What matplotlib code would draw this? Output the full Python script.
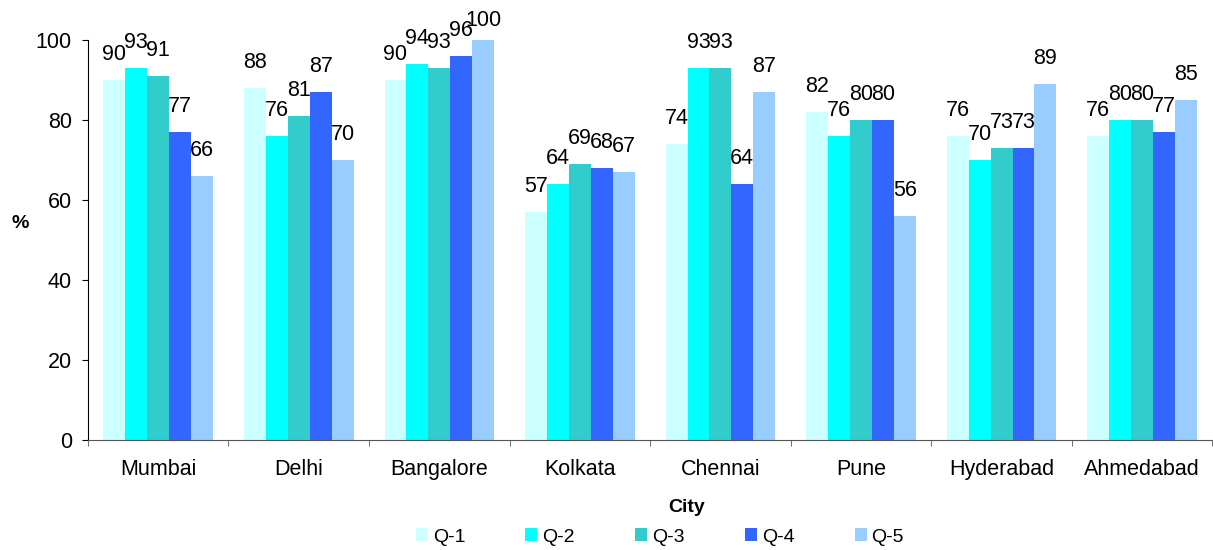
import numpy as np
import matplotlib.pyplot as plt

plt.rcParams['font.family'] = ['Liberation Sans', 'DejaVu Sans']

# Data
cities = ["Mumbai", "Delhi", "Bangalore", "Kolkata", "Chennai", "Pune", "Hyderabad", "Ahmedabad"]
series_names = ["Q-1", "Q-2", "Q-3", "Q-4", "Q-5"]
q1 = [90, 88, 90, 57, 74, 82, 76, 76]
q2 = [93, 76, 94, 64, 93, 76, 70, 80]
q3 = [91, 81, 93, 69, 93, 80, 73, 80]
q4 = [77, 87, 96, 68, 64, 80, 73, 77]
q5 = [66, 70, 100, 67, 87, 56, 89, 85]
colors = ["#CCFFFF", "#00FFFF", "#33CCCC", "#3366FF", "#99CCFF"]


def main():
    fig = plt.figure(figsize=(12.13, 5.5), dpi=100)
    ax = fig.add_axes([0.0725, 0.2, 0.927, 0.727])

    x = np.arange(len(cities))
    width = 0.156
    all_series = [q1, q2, q3, q4, q5]

    for k, (vals, name, col) in enumerate(zip(all_series, series_names, colors)):
        pos = x + (k - 2) * width
        ax.bar(pos, vals, width=width, color=col, label=name)
        # value labels above each bar, kept inside the top of the chart area
        for px, v in zip(pos, vals):
            ax.text(px, min(v + 5, 103.5), str(v), ha="center", va="baseline",
                    fontsize=15.5, clip_on=False)

    ax.set_xlim(-0.5, len(cities) - 0.5)
    ax.set_ylim(0, 100)
    ax.set_yticks(range(0, 101, 20))
    ax.tick_params(axis="y", labelsize=15.5, length=4.5, pad=7, direction="out")

    # category labels in the middle, ticks on the group boundaries
    ax.set_xticks(x)
    ax.set_xticklabels(cities, fontsize=15.5)
    ax.tick_params(axis="x", which="major", length=0, pad=14)
    ax.set_xticks(np.arange(-0.5, len(cities) + 0.5, 1), minor=True)
    ax.tick_params(axis="x", which="minor", length=4.5, direction="out", color="#555555")

    for side in ["top", "right"]:
        ax.spines[side].set_visible(False)
    ax.spines["bottom"].set_color("#555555")

    fig.text(20 / 1213, 1 - 223 / 550, "%", fontsize=14, fontweight="bold",
             ha="center", va="center")
    fig.text(687 / 1213, 1 - 508 / 550, "City", fontsize=14, fontweight="bold",
             ha="center", va="center")

    fig.legend(loc="center", bbox_to_anchor=(0.544, 1 - 537 / 550), ncol=5, frameon=False,
               fontsize=14, handlelength=0.62, handleheight=0.62, handletextpad=0.25,
               columnspacing=3.1, borderpad=0)

    fig.savefig("out.png", dpi=100)


if __name__ == "__main__":
    main()
